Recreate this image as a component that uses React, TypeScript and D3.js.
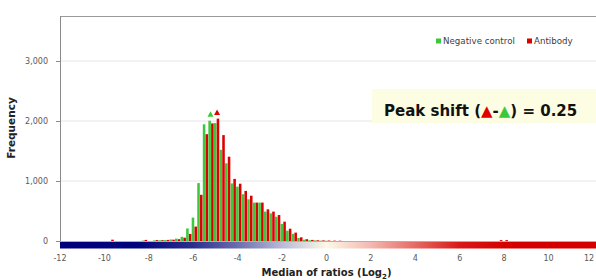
import { useMemo } from "react";
import { scaleLinear, maxIndex } from "d3";

// histogram bin centres (log2 median of ratios), bin width 0.25
const binCenters = [
  -9.7, -8.2, -7.95, -7.7, -7.45, -7.2, -6.95, -6.7, -6.45, -6.2, -5.95, -5.7,
  -5.45, -5.2, -4.95, -4.7, -4.45, -4.2, -3.95, -3.7, -3.45, -3.2, -2.95, -2.7,
  -2.45, -2.2, -1.95, -1.7, -1.45, -1.2, -0.95, -0.7, -0.45, -0.2, 0.05, 0.3,
  0.55, 7.8, 8.05,
];
const negativeControl = [
  0, 8, 0, 10, 12, 15, 25, 40, 70, 210, 390, 965, 1945, 2005, 1965, 1520, 1295,
  960, 905, 780, 695, 640, 640, 490, 460, 405, 285, 172, 120, 50, 22, 12, 10, 6,
  4, 0, 0, 0, 0,
];
const antibody = [
  22, 18, 0, 15, 14, 18, 22, 30, 55, 118, 240, 770, 1780, 1960, 2040, 1765, 1405,
  1035, 955, 835, 755, 640, 640, 528, 490, 433, 322, 205, 140, 61, 30, 18, 12, 10,
  8, 6, 5, 15, 15,
];
const binWidth = 0.25;

const xTicks = [-12, -10, -8, -6, -4, -2, 0, 2, 4, 6, 8, 10, 12];
const yTicks = [0, 1000, 2000, 3000];
const seriesNames = ["Negative control", "Antibody"];
const seriesColors = ["#3cc83c", "#dc0000"];

// colour bar under the axis
const gradStops: [number, string][] = [
  [-12, "#00007a"],
  [-8.5, "#00047c"],
  [-6, "#2a2f8e"],
  [-4, "#6a6eae"],
  [-2, "#b8bad6"],
  [0, "#fcf9e6"],
  [2, "#f3b8b0"],
  [4, "#e56a62"],
  [6, "#d81818"],
  [8, "#d40000"],
  [12.5, "#d40000"],
];

const W = 596;
const H = 280;
const tickFont = "'DejaVu Sans', Verdana, sans-serif";

export default function App() {
  const x = useMemo(() => scaleLinear().domain([-12, 12]).range([60, 593]), []);
  const y = useMemo(() => scaleLinear().domain([0, 3750]).range([241, 16]), []);

  const bw = x(binWidth) - x(0);
  const barW = bw * 0.46;

  const gPeak = maxIndex(negativeControl);
  const rPeak = maxIndex(antibody);

  const tri = (cx: number, bottom: number) =>
    `M${cx - 3},${bottom} L${cx + 3},${bottom} L${cx},${bottom - 5.5} Z`;

  return (
    <svg
      width={W}
      height={H}
      style={{ position: "absolute", left: 0, top: 0, display: "block", background: "#fff" }}
    >
      <defs>
        <linearGradient id="ratioGrad" gradientUnits="userSpaceOnUse" x1={x(-12)} x2={x(12.5)} y1={0} y2={0}>
          {gradStops.map(([v, c], i) => (
            <stop key={i} offset={(x(v) - x(-12)) / (x(12.5) - x(-12))} stopColor={c} />
          ))}
        </linearGradient>
      </defs>

      {/* grid */}
      {yTicks.slice(1).map((t) => (
        <line key={t} x1={x(-12)} x2={W} y1={y(t)} y2={y(t)} stroke="#e6e6e6" strokeWidth={1} />
      ))}
      <line x1={x(-12)} x2={W} y1={16.5} y2={16.5} stroke="#9a9a9a" strokeWidth={1} />

      {/* bars */}
      {binCenters.map((c, i) => (
        <g key={c}>
          {negativeControl[i] > 0 && (
            <rect
              x={x(c) - barW - bw * 0.02}
              width={barW}
              y={y(negativeControl[i])}
              height={y(0) - y(negativeControl[i])}
              fill={seriesColors[0]}
            />
          )}
          {antibody[i] > 0 && (
            <rect
              x={x(c) + bw * 0.02}
              width={barW}
              y={y(antibody[i])}
              height={y(0) - y(antibody[i])}
              fill={seriesColors[1]}
            />
          )}
        </g>
      ))}

      {/* peak markers */}
      <path d={tri(x(binCenters[gPeak]) - 0.5, y(negativeControl[gPeak]) - 4)} fill={seriesColors[0]} />
      <path d={tri(x(binCenters[rPeak]) + 0.5, y(antibody[rPeak]) - 3.5)} fill={seriesColors[1]} />

      {/* axes */}
      <line x1={60.5} x2={60.5} y1={16} y2={y(0)} stroke="#8a8a8a" strokeWidth={1} />
      <line x1={60} x2={W} y1={y(0) + 0.5} y2={y(0) + 0.5} stroke="#b0b0b0" strokeWidth={1} />
      <rect x={x(-12)} y={242} width={W - x(-12)} height={6.5} fill="url(#ratioGrad)" />

      {yTicks.map((t) => (
        <g key={t}>
          <line x1={56} x2={60} y1={y(t) + 0.5} y2={y(t) + 0.5} stroke="#8a8a8a" />
          <text
            x={48}
            y={y(t) + 3}
            textAnchor="end"
            fontFamily={tickFont}
            fontSize={8}
            fill="#595959"
          >
            {t.toLocaleString("en-US")}
          </text>
        </g>
      ))}
      {xTicks.map((t) => (
        <text
          key={t}
          x={Math.min(x(t), W - 7)}
          y={261}
          textAnchor="middle"
          fontFamily={tickFont}
          fontSize={8}
          fill="#595959"
        >
          {t}
        </text>
      ))}

      {/* axis titles */}
      <text
        x={x(0)}
        y={276}
        textAnchor="middle"
        fontFamily={tickFont}
        fontWeight="bold"
        fontSize={10}
        fill="#222"
      >
        Median of ratios (Log
        <tspan fontSize={7} dy={2.5}>2</tspan>
        <tspan dy={-2.5}>)</tspan>
      </text>
      <text
        transform={`translate(15,128) rotate(-90)`}
        textAnchor="middle"
        fontFamily={tickFont}
        fontWeight="bold"
        fontSize={10.5}
        fill="#222"
      >
        Frequency
      </text>

      {/* legend */}
      {seriesNames.map((name, i) => {
        const lx = i === 0 ? 436 : 527;
        return (
          <g key={name}>
            <rect x={lx} y={38.5} width={5} height={5} fill={seriesColors[i]} />
            <text x={lx + 7} y={44} fontFamily={tickFont} fontSize={8.7} fill="#404040">
              {name}
            </text>
          </g>
        );
      })}

      {/* peak shift annotation */}
      <rect x={372} y={89} width={W - 372} height={34} fill="#fdfde4" />
      <text x={384} y={116} fontFamily={tickFont} fontWeight="bold" fontSize={15} fill="#111">
        Peak shift (
        <tspan fill={seriesColors[1]}>▲</tspan>
        -
        <tspan fill={seriesColors[0]}>▲</tspan>
        ) = 0.25
      </text>
    </svg>
  );
}
